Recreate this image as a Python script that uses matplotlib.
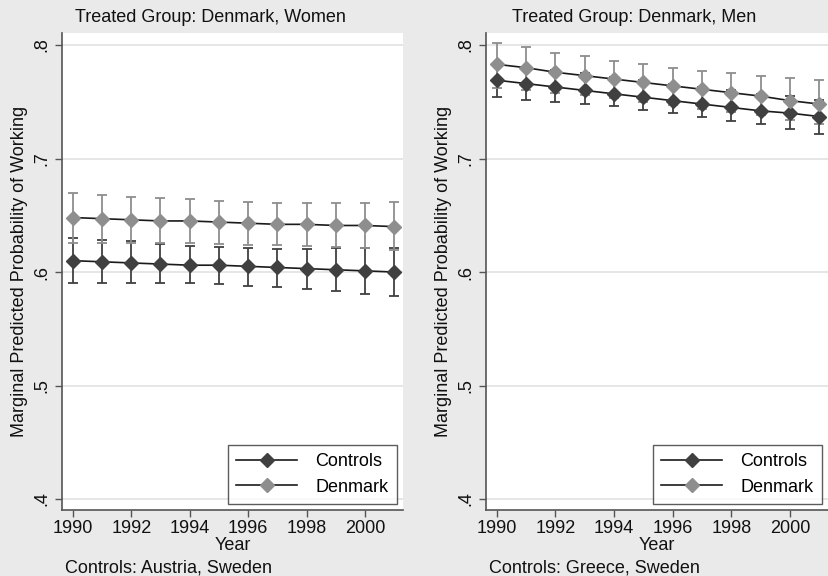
import numpy as np
import matplotlib
matplotlib.use("Agg")
import matplotlib.pyplot as plt

plt.rcParams['font.family'] = ['Liberation Sans', 'DejaVu Sans']

years = list(range(1990, 2002))

# women panel (controls: Austria, Sweden)
w_ctrl = [.610, .609, .608, .607, .606, .606, .605, .604, .603, .602, .601, .600]
w_ctrl_hi = [.630, .628, .627, .625, .623, .622, .621, .620, .620, .621, .621, .621]
w_ctrl_lo = [.590, .590, .590, .590, .590, .589, .588, .587, .585, .583, .581, .579]
w_dk = [.648, .647, .646, .645, .645, .644, .643, .642, .642, .641, .641, .640]
w_dk_hi = [.670, .668, .666, .665, .664, .663, .662, .661, .661, .661, .661, .662]
w_dk_lo = [.626, .626, .626, .626, .626, .625, .624, .624, .623, .622, .621, .619]

# men panel (controls: Greece, Sweden)
m_ctrl = [.769, .766, .763, .760, .757, .754, .751, .748, .745, .742, .740, .737]
m_ctrl_hi = [.784, .781, .778, .775, .772, .769, .766, .763, .760, .757, .755, .752]
m_ctrl_lo = [.754, .752, .750, .748, .746, .743, .740, .737, .733, .730, .726, .722]
m_dk = [.783, .780, .776, .773, .770, .767, .764, .761, .758, .755, .751, .748]
m_dk_hi = [.802, .798, .793, .790, .786, .783, .780, .777, .775, .773, .771, .769]
m_dk_lo = [.762, .760, .758, .756, .753, .750, .747, .744, .741, .738, .734, .730]

titles = ["Treated Group: Denmark, Women", "Treated Group: Denmark, Men"]
notes = ["Controls: Austria, Sweden", "Controls: Greece, Sweden"]
yticks = [.4, .5, .6, .7, .8]
ylabels = [".4", ".5", ".6", ".7", ".8"]
xticks = [1990, 1992, 1994, 1996, 1998, 2000]

bg = "#eaeaea"
c_ctrl = "#404040"
c_dk = "#8e8e8e"

fig = plt.figure(figsize=(8.29, 5.76), dpi=100, facecolor=bg)
axes = [fig.add_axes([62/829, 66/576, 341/829, 477/576]),
        fig.add_axes([486/829, 66/576, 342/829, 477/576])]

panels = [(w_ctrl, w_ctrl_lo, w_ctrl_hi, w_dk, w_dk_lo, w_dk_hi),
          (m_ctrl, m_ctrl_lo, m_ctrl_hi, m_dk, m_dk_lo, m_dk_hi)]

for ax, data in zip(axes, panels):
    ctrl, clo, chi, dk, dlo, dhi = [np.array(d) for d in data]
    ax.set_facecolor("white")
    ax.errorbar(years, ctrl, yerr=[ctrl - clo, chi - ctrl], fmt="none",
                ecolor=c_ctrl, elinewidth=1.3, capsize=3.5, capthick=1.3, zorder=2)
    ax.errorbar(years, dk, yerr=[dk - dlo, dhi - dk], fmt="none",
                ecolor=c_dk, elinewidth=1.3, capsize=3.5, capthick=1.3, zorder=2)
    ax.plot(years, ctrl, color="#1a1a1a", lw=1.2, marker="D", ms=7.5,
            mfc=c_ctrl, mec=c_ctrl, label="Controls", zorder=3)
    ax.plot(years, dk, color="#1a1a1a", lw=1.2, marker="D", ms=7.5,
            mfc=c_dk, mec=c_dk, label="Denmark", zorder=3)
    ax.set_xlim(1989.63, 2001.3)
    ax.set_ylim(0.3903, 0.8106)
    ax.set_yticks(yticks)
    ax.set_yticklabels(ylabels, rotation=90, va="center")
    ax.set_xticks(xticks)
    ax.grid(axis="y", color="#e2e2e2", lw=1.2)
    ax.set_axisbelow(True)
    for s in ["top", "right"]:
        ax.spines[s].set_visible(False)
    for s in ["left", "bottom"]:
        ax.spines[s].set_color("#555555")
        ax.spines[s].set_linewidth(1.2)
    ax.tick_params(direction="out", length=5, width=1, color="#555555",
                   labelsize=13, labelcolor="#111111")
    ax.tick_params(axis="x", pad=2)
    ax.set_xlabel("Year", fontsize=13, labelpad=0, color="#111111")
    ax.set_ylabel("Marginal Predicted Probability of Working", fontsize=13,
                  color="#111111", labelpad=4)
    leg = ax.legend(loc="lower right", fontsize=13, frameon=True, fancybox=False,
                    edgecolor="#333333", handlelength=3.4, borderpad=0.45,
                    labelspacing=0.45, handletextpad=1.0, borderaxespad=0.35)
    leg.get_frame().set_linewidth(1.0)

fig.text(210/829, 1 - 17/576, titles[0], ha="center", va="center", fontsize=13, color="#111111")
fig.text(634/829, 1 - 17/576, titles[1], ha="center", va="center", fontsize=13, color="#111111")
fig.text(65/829, 1 - 568/576, notes[0], ha="left", va="center", fontsize=13, color="#111111")
fig.text(489/829, 1 - 568/576, notes[1], ha="left", va="center", fontsize=13, color="#111111")

fig.savefig("out.png", dpi=100, facecolor=bg)
